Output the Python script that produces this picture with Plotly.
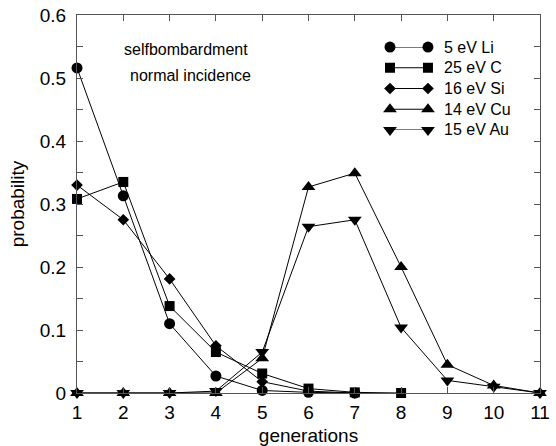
import plotly.graph_objects as go

gen_li = [1, 2, 3, 4, 5, 6, 7]
li = [0.516, 0.313, 0.110, 0.027, 0.004, 0.001, 0.0]
gen_c = [1, 2, 3, 4, 5, 6, 7, 8]
c = [0.308, 0.335, 0.138, 0.065, 0.031, 0.007, 0.001, 0.0]
gen_si = [1, 2, 3, 4, 5, 6, 7]
si = [0.330, 0.275, 0.181, 0.075, 0.018, 0.003, 0.0]
gen_cu = [1, 2, 3, 4, 5, 6, 7, 8, 9, 10, 11]
cu = [0.0, 0.0, 0.0, 0.0, 0.055, 0.327, 0.349, 0.200, 0.045, 0.012, 0.0]
gen_au = [1, 2, 3, 4, 5, 6, 7, 8, 9, 10, 11]
au = [0.0, 0.0, 0.0, 0.003, 0.065, 0.264, 0.275, 0.104, 0.020, 0.010, 0.0]

labels = ["5 eV Li", "25 eV C", "16 eV Si", "14 eV Cu", "15 eV Au"]
symbols = ["circle", "square", "diamond", "triangle-up", "triangle-down"]
sizes = [11, 10, 9, 12, 12]
series = [(gen_li, li), (gen_c, c), (gen_si, si), (gen_cu, cu), (gen_au, au)]

FONT = "Liberation Sans, Arial, Helvetica, sans-serif"
fig = go.Figure()
for (xs, ys), lab, sym, sz in zip(series, labels, symbols, sizes):
    fig.add_trace(go.Scatter(
        x=xs, y=ys, mode="lines+markers", name=lab, showlegend=False,
        line=dict(color="black", width=1),
        marker=dict(symbol=sym, size=sz, color="black", line=dict(width=0)),
        cliponaxis=False,
    ))

# custom gnuplot-style legend on its own small axis
for i, (lab, sym, sz) in enumerate(zip(labels, symbols, sizes)):
    fig.add_trace(go.Scatter(
        x=[0, 1], y=[-i, -i], mode="lines+markers", showlegend=False,
        line=dict(color="black", width=1),
        marker=dict(symbol=sym, size=sz, color="black", line=dict(width=0)),
        xaxis="x2", yaxis="y2", hoverinfo="skip", cliponaxis=False,
    ))
    fig.add_annotation(x=1, y=-i, xref="x2", yref="y2", text=lab, showarrow=False,
                       xanchor="left", yanchor="middle", xshift=14,
                       font=dict(size=16, color="black", family=FONT))

fig.add_annotation(x=0.2354, y=0.910, xref="paper", yref="paper", text="selfbombardment",
                   showarrow=False, xanchor="center", yanchor="middle",
                   font=dict(size=16, color="black", family=FONT))
fig.add_annotation(x=0.2441, y=0.841, xref="paper", yref="paper", text="normal incidence",
                   showarrow=False, xanchor="center", yanchor="middle",
                   font=dict(size=16, color="black", family=FONT))

axcol = "#555555"
fig.update_layout(
    width=556, height=446,
    margin=dict(l=77, r=16, t=15, b=53),
    paper_bgcolor="white", plot_bgcolor="white",
    font=dict(family=FONT, size=19, color="black"),
    xaxis=dict(range=[1, 11], tickmode="array", tickvals=list(range(1, 12)),
               ticks="inside", ticklen=6, tickcolor=axcol, mirror="ticks",
               ticklabelstandoff=2, automargin=False,
               showline=True, linecolor=axcol, linewidth=1, showgrid=False, zeroline=False,
               title=dict(text="generations", standoff=6, font=dict(size=19))),
    yaxis=dict(range=[0, 0.6], tickmode="array", tickvals=[0, 0.1, 0.2, 0.3, 0.4, 0.5, 0.6],
               ticktext=["0", "0.1", "0.2", "0.3", "0.4", "0.5", "0.6"],
               ticks="inside", ticklen=6, tickcolor=axcol, mirror="ticks",
               ticklabelstandoff=6, automargin=False,
               minor=dict(tickvals=[0.05, 0.15, 0.25, 0.35, 0.45, 0.55], ticks="inside", ticklen=6, tickcolor=axcol),
               showline=True, linecolor=axcol, linewidth=1, showgrid=False, zeroline=False,
               title=dict(text="probability", standoff=10, font=dict(size=19))),
    xaxis2=dict(domain=[0.676, 0.758], range=[0, 1], visible=False, anchor="y2"),
    yaxis2=dict(domain=[0.6958, 0.9153], range=[-4, 0], visible=False, anchor="x2"),
)

fig.write_html("out.html")
